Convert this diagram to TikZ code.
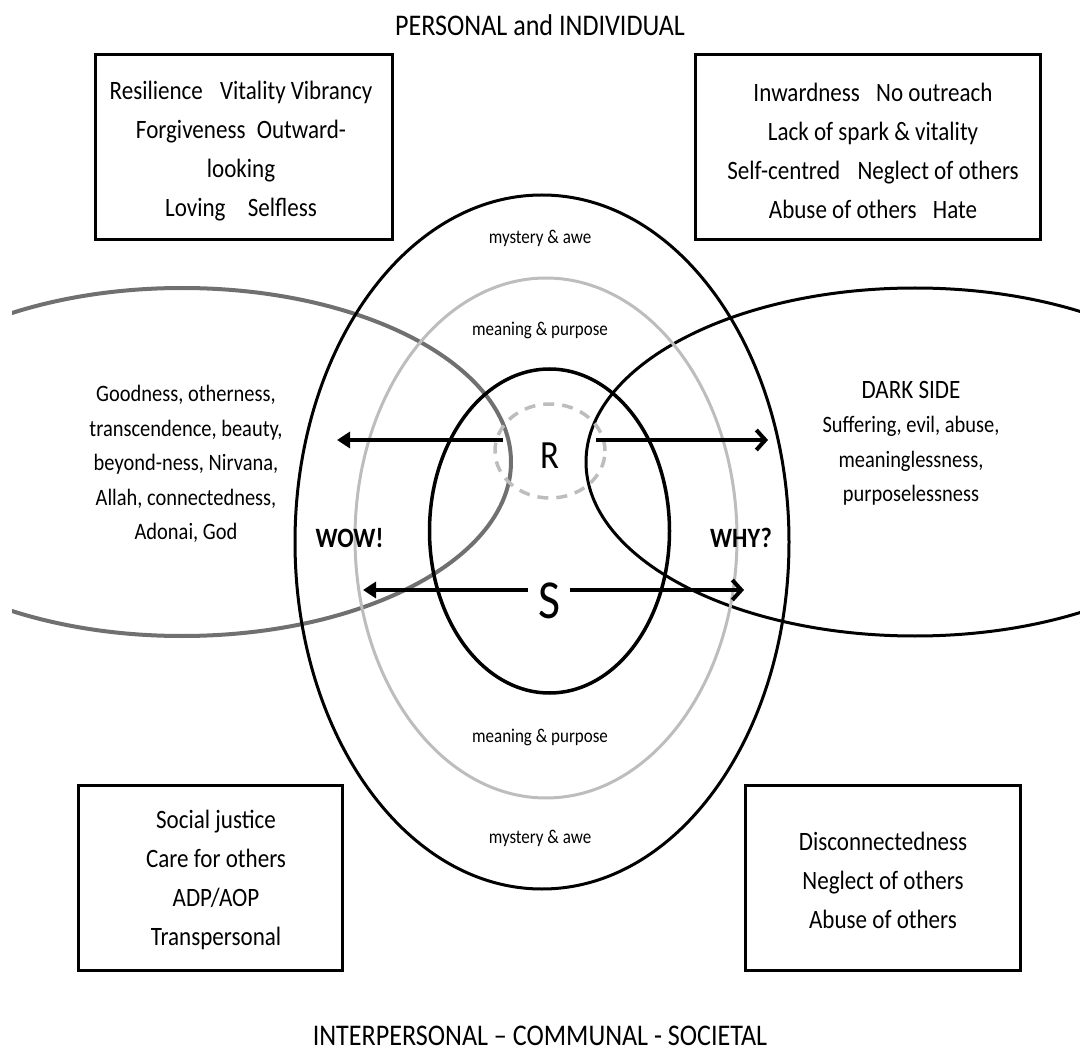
\documentclass[tikz,border=0pt]{standalone}
\usepackage{fontspec}
\setmainfont{Carlito}[FakeStretch=0.87]
\usetikzlibrary{arrows.meta}

\definecolor{ringgray}{HTML}{BDBDBD}
\definecolor{lensgray}{HTML}{707070}

\tikzset{
  blackring/.style={line width=3pt, black},
  grayring/.style={line width=3pt, ringgray},
  framebox/.style={draw, line width=3pt, inner sep=0pt},
  boxtext/.style={align=center, inner sep=0pt, font=\fontsize{26.5}{39}\selectfont},
  lenstext/.style={align=center, inner sep=0pt, font=\fontsize{23.5}{34.5}\selectfont},
  smalllabel/.style={inner sep=0pt, font=\fontsize{19.5}{22}\selectfont},
  bigtitle/.style={inner sep=0pt, font=\fontsize{30}{34}\selectfont},
  shout/.style={inner sep=0pt, font=\fontsize{28}{30}\selectfont\bfseries},
  leftarrow/.style={line width=4pt, -{Triangle[length=13pt,width=16pt]}},
  rightarrow/.style={line width=4pt, -{Straight Barb[length=9pt,width=20pt,line width=4pt]}}
}

\begin{document}
\begin{tikzpicture}[x=1pt,y=-1pt]
\useasboundingbox (0,0) rectangle (1080,1059);

% side lenses: transcendence on the left, dark side on the right
\begin{scope}
  \clip (12,0) rectangle (1080,1059);
  \draw[line width=4pt, lensgray] (182,462) ellipse [x radius=329pt, y radius=174pt];
  \draw[line width=3pt, black] (915,462) ellipse [x radius=329pt, y radius=174pt];
\end{scope}

% nested rings of the self
\draw[blackring] (542,542) ellipse [x radius=247pt, y radius=347pt];
\draw[grayring] (546,538) ellipse [x radius=191pt, y radius=260pt];
\draw[line width=3.5pt] (549.5,531) ellipse [x radius=120pt, y radius=162pt];
\draw[line width=3.5pt, ringgray, dash pattern=on 11pt off 8pt] (550,451) ellipse [x radius=55pt, y radius=47pt];

% titles
\node[bigtitle] (top) at (540,25) {PERSONAL and INDIVIDUAL};
\node[bigtitle] (bottom) at (540,1036) {INTERPERSONAL – COMMUNAL - SOCIETAL};

% corner boxes
\node[framebox, minimum width=297pt, minimum height=185pt] (tl) at (243.5,147.5) {};
\node[boxtext] (tltext) at (241,151) {Resilience\hspace{12pt} Vitality Vibrancy\\Forgiveness\hspace{6pt} Outward-\\looking\\Loving\hspace{17pt} Selfless};

\node[framebox, minimum width=345pt, minimum height=185pt] (tr) at (867.5,147.5) {};
\node[boxtext] (trtext) at (873,151) {Inwardness\hspace{11pt} No outreach\\Lack of spark \& vitality\\Self-centred\hspace{12pt} Neglect of others\\Abuse of others\hspace{11pt} Hate};

\node[framebox, minimum width=264pt, minimum height=185pt] (bl) at (210,877.5) {};
\node[boxtext] (bltext) at (216,880) {Social justice\\Care for others\\ADP/AOP\\Transpersonal};

\node[framebox, minimum width=275pt, minimum height=185pt] (br) at (882.5,877.5) {};
\node[boxtext] (brtext) at (883,880) {Disconnectedness\\Neglect of others\\Abuse of others};

% ring labels
\node[smalllabel] (awetop) at (540,238) {mystery \& awe};
\node[smalllabel] (meantop) at (540,330) {meaning \& purpose};
\node[smalllabel] (meanbot) at (540,737) {meaning \& purpose};
\node[smalllabel] (awebot) at (540,838) {mystery \& awe};

% lens texts
\node[lenstext] (good) at (186,464) {Goodness, otherness,\\transcendence, beauty,\\beyond-ness, Nirvana,\\Allah, connectedness,\\Adonai, God};
\node[inner sep=0pt, font=\fontsize{26.5}{30}\selectfont] (dark) at (911,390) {DARK SIDE};
\node[lenstext] (darktext) at (911,461) {Suffering, evil, abuse,\\meaninglessness,\\purposelessness};

\node[shout] (wow) at (349.5,538) {WOW!};
\node[shout] (why) at (741,538) {WHY?};

% R and S with their outward arrows
\node[inner sep=0pt, font=\fontsize{40}{42}\selectfont] (R) at (549.5,456) {R};
\node[inner sep=0pt, font=\fontsize{55}{58}\selectfont] (S) at (549,601) {S};

\coordinate (rl0) at (503,440);
\coordinate (rl1) at (337,440);
\coordinate (rr0) at (596,440);
\coordinate (rr1) at (768,440);
\coordinate (sl0) at (528,590);
\coordinate (sl1) at (363,590);
\coordinate (sr0) at (570,590);
\coordinate (sr1) at (744,590);

\draw[leftarrow] (rl0) -- (rl1);
\draw[rightarrow] (rr0) -- (rr1);
\draw[leftarrow] (sl0) -- (sl1);
\draw[rightarrow] (sr0) -- (sr1);
\end{tikzpicture}
\end{document}
